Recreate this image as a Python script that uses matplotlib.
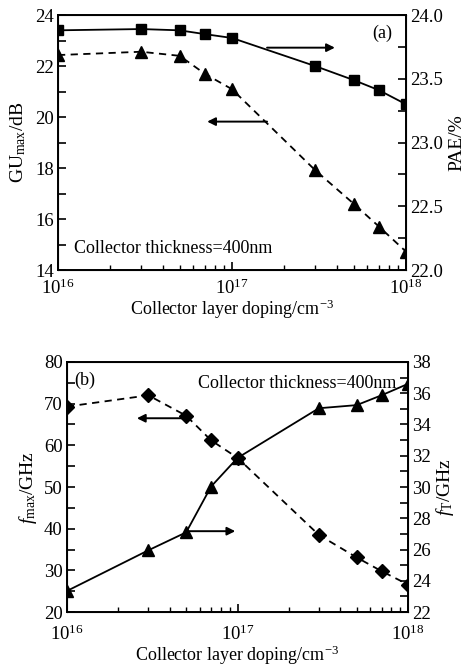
import matplotlib
matplotlib.use('Agg')
import matplotlib.pyplot as plt
from matplotlib.ticker import MultipleLocator, LogLocator, NullFormatter, FormatStrFormatter

plt.rcParams['font.family'] = ['Liberation Serif', 'DejaVu Serif']
plt.rcParams['mathtext.fontset'] = 'custom'
plt.rcParams['mathtext.rm'] = 'Liberation Serif'
plt.rcParams['mathtext.it'] = 'Liberation Serif:italic'
plt.rcParams['mathtext.bf'] = 'Liberation Serif:bold'

# collector doping (cm^-3)
doping = [1e16, 3e16, 5e16, 7e16, 1e17, 3e17, 5e17, 7e17, 1e18]

# panel (a)
gu_max = [22.43, 22.56, 22.40, 21.69, 21.09, 17.92, 16.60, 15.70, 14.72]
pae = [23.88, 23.89, 23.88, 23.85, 23.82, 23.60, 23.49, 23.41, 23.30]

# panel (b)
f_max = [69.3, 72.0, 67.1, 61.2, 57.0, 38.5, 33.1, 29.8, 26.6]
f_t = [23.35, 25.95, 27.1, 30.03, 31.86, 35.04, 35.24, 35.87, 36.6]

FS = 13.5
xlab = 'Collector layer doping/cm$^{-3}$'


def style_x(ax, pad, lpad):
    ax.set_xscale('log')
    ax.set_xlim(1e16, 1e18)
    ax.xaxis.set_minor_locator(LogLocator(base=10, subs=range(2, 10)))
    ax.xaxis.set_minor_formatter(NullFormatter())
    ax.tick_params(axis='x', which='both', direction='in', top=False)
    ax.tick_params(axis='x', which='major', length=6, width=1.2, labelsize=FS, pad=pad)
    ax.tick_params(axis='x', which='minor', length=3.5, width=1.0)
    ax.set_xlabel(xlab, fontsize=13, labelpad=lpad)


def style_y(ax):
    ax.tick_params(axis='y', which='both', direction='in')
    ax.tick_params(axis='y', which='major', length=6, width=1.2, labelsize=FS, pad=3)
    ax.tick_params(axis='y', which='minor', length=6, width=1.2)


def arrow(ax, x0, x1, y):
    ax.annotate('', xy=(x1, y), xytext=(x0, y),
                arrowprops=dict(arrowstyle='-|>', color='black', lw=1.4,
                                mutation_scale=12, shrinkA=0, shrinkB=0))


fig = plt.figure(figsize=(4.69, 6.68), dpi=100)

# ---------- (a) ----------
ax1 = fig.add_axes([0.1237, 0.5958, 0.742, 0.3817])
for s in ax1.spines.values():
    s.set_linewidth(1.4)
ax1.plot(doping, gu_max, '--', color='black', lw=1.3, dashes=(4, 3),
         marker='^', markersize=8)
ax1.set_ylim(14, 24)
ax1.yaxis.set_major_locator(MultipleLocator(2))
ax1.yaxis.set_minor_locator(MultipleLocator(1))
style_x(ax1, 6, 0)
style_y(ax1)
ax1.set_ylabel('GU$_{\\mathrm{max}}$/dB', fontsize=14, labelpad=5)

ax1r = ax1.twinx()
ax1r.plot(doping, pae, '-', color='black', lw=1.3, marker='s', markersize=6.5)
ax1r.set_ylim(22.0, 24.0)
ax1r.yaxis.set_major_locator(MultipleLocator(0.5))
ax1r.yaxis.set_minor_locator(MultipleLocator(0.25))
ax1r.yaxis.set_major_formatter(FormatStrFormatter('%.1f'))
style_y(ax1r)
ax1r.set_ylabel('PAE/%', fontsize=14, labelpad=4)

arrow(ax1, 1.59e17, 3.9e17, 22.72)
arrow(ax1, 1.59e17, 7.2e16, 19.82)
ax1.text(0.96, 0.93, '(a)', transform=ax1.transAxes, fontsize=13,
         ha='right', va='center')
ax1.text(0.045, 0.085, 'Collector thickness=400nm', transform=ax1.transAxes,
         fontsize=13, ha='left', va='center')

# ---------- (b) ----------
ax2 = fig.add_axes([0.1429, 0.0838, 0.727, 0.3743])
for s in ax2.spines.values():
    s.set_linewidth(1.4)
ax2.plot(doping, f_max, '--', color='black', lw=1.3, dashes=(4, 3),
         marker='D', markersize=7)
ax2.set_ylim(20, 80)
ax2.yaxis.set_major_locator(MultipleLocator(10))
ax2.yaxis.set_minor_locator(MultipleLocator(5))
style_x(ax2, 9, 0)
style_y(ax2)
ax2.set_ylabel('$f_{\\mathrm{max}}$/GHz', fontsize=14, labelpad=4)

ax2r = ax2.twinx()
ax2r.plot(doping, f_t, '-', color='black', lw=1.3, marker='^', markersize=8)
ax2r.set_ylim(22, 38)
ax2r.yaxis.set_major_locator(MultipleLocator(2))
ax2r.yaxis.set_minor_locator(MultipleLocator(1))
style_y(ax2r)
ax2r.set_ylabel('$f_{\\mathrm{T}}$/GHz', fontsize=14, labelpad=2)

arrow(ax2, 5.1e16, 2.57e16, 66.5)
arrow(ax2, 5.05e16, 9.7e16, 39.4)
ax2.text(0.02, 0.925, '(b)', transform=ax2.transAxes, fontsize=13,
         ha='left', va='center')
ax2.text(0.965, 0.915, 'Collector thickness=400nm', transform=ax2.transAxes,
         fontsize=13, ha='right', va='center')

plt.savefig('out.png', dpi=100)
plt.close(fig)
